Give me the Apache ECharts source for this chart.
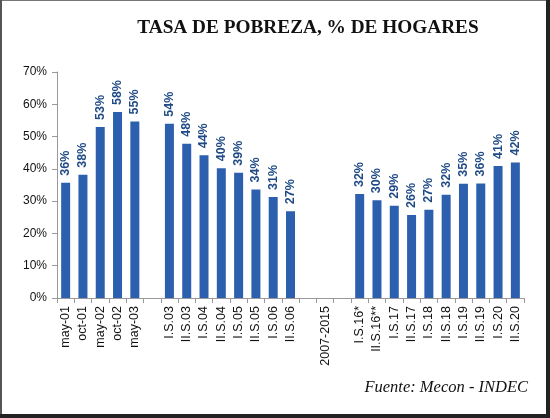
<!DOCTYPE html>
<html>
<head>
<meta charset="utf-8">
<script src="https://cdn.jsdelivr.net/npm/echarts@6/dist/echarts.min.js"></script>
<style>
    html, body { margin: 0; padding: 0; background: #fff; }
    #main { width: 550px; height: 418px; }
</style>
</head>
<body>
<div id="main"></div>
<script>
// categorias (las vacias son huecos en el eje)
var periodos = ['may-01', 'oct-01', 'may-02', 'oct-02', 'may-03', '',
    'I.S.03', 'II.S.03', 'I.S.04', 'II.S.04', 'I.S.05', 'II.S.05', 'I.S.06', 'II.S.06',
    '', '2007-2015', '',
    'I.S.16*', 'II.S.16**', 'I.S.17', 'II.S.17', 'I.S.18', 'II.S.18', 'I.S.19', 'II.S.19', 'I.S.20', 'II.S.20'];

// tasa de pobreza, % de hogares (null = sin dato)
var pobreza = [35.7, 38.2, 53.0, 57.6, 54.7, null,
    54.0, 47.8, 44.2, 40.2, 38.8, 33.6, 31.3, 26.9,
    null, null, null,
    32.2, 30.3, 28.6, 25.7, 27.3, 32.0, 35.4, 35.5, 40.9, 42.0];

var ticksY = [0, 10, 20, 30, 40, 50, 60, 70];

var myChart = echarts.init(document.getElementById('main'));

var option = {
    backgroundColor: '#ffffff',
    title: {
        text: 'TASA DE POBREZA, % DE HOGARES',
        left: 303,
        textAlign: 'center',
        top: 14,
        textStyle: {
            fontFamily: 'Liberation Serif',
            fontWeight: 'bold',
            fontSize: 19.3,
            color: '#111'
        }
    },
    grid: {
        left: 57,
        right: 26,
        top: 72,
        bottom: 120
    },
    xAxis: {
        type: 'category',
        data: periodos,
        axisLine: { lineStyle: { color: '#999', width: 1 } },
        axisTick: { show: true, length: 5, lineStyle: { color: '#999' } },
        axisLabel: {
            interval: 0,
            rotate: 90,
            margin: 8,
            fontFamily: 'Liberation Sans',
            fontSize: 12.5,
            color: '#111'
        }
    },
    yAxis: {
        type: 'value',
        min: ticksY[0],
        max: ticksY[ticksY.length - 1],
        interval: 10,
        axisLine: { show: true, lineStyle: { color: '#999' } },
        axisTick: { show: true, length: 5, lineStyle: { color: '#999' } },
        splitLine: { show: false },
        axisLabel: {
            formatter: '{value}%',
            margin: 10,
            fontFamily: 'Liberation Sans',
            fontSize: 12,
            color: '#111'
        }
    },
    series: [{
        name: 'Pobreza',
        type: 'bar',
        data: pobreza,
        barWidth: '52%',
        itemStyle: { color: '#2C60AE' },
        label: {
            show: true,
            position: 'top',
            rotate: 90,
            align: 'left',
            verticalAlign: 'middle',
            distance: 7,
            formatter: function (p) { return Math.round(p.value) + '%'; },
            fontFamily: 'Liberation Sans',
            fontWeight: 'bold',
            fontSize: 12.5,
            color: '#1F4A86'
        }
    }],
    graphic: [
        // marco: fino arriba/izquierda, grueso abajo/derecha
        { type: 'rect', shape: { x: 0, y: 0, width: 550, height: 1 }, style: { fill: '#777' }, silent: true },
        { type: 'rect', shape: { x: 0, y: 0, width: 2, height: 418 }, style: { fill: '#555' }, silent: true },
        { type: 'rect', shape: { x: 546, y: 0, width: 4, height: 418 }, style: { fill: '#222' }, silent: true },
        { type: 'rect', shape: { x: 0, y: 414, width: 550, height: 4 }, style: { fill: '#222' }, silent: true },
        {
            type: 'text',
            right: 22,
            top: 379,
            style: {
                text: 'Fuente: Mecon - INDEC',
                fontFamily: 'Liberation Serif',
                fontStyle: 'italic',
                fontSize: 16.5,
                fill: '#111'
            }
        }
    ]
};

myChart.setOption(option);
</script>
</body>
</html>
